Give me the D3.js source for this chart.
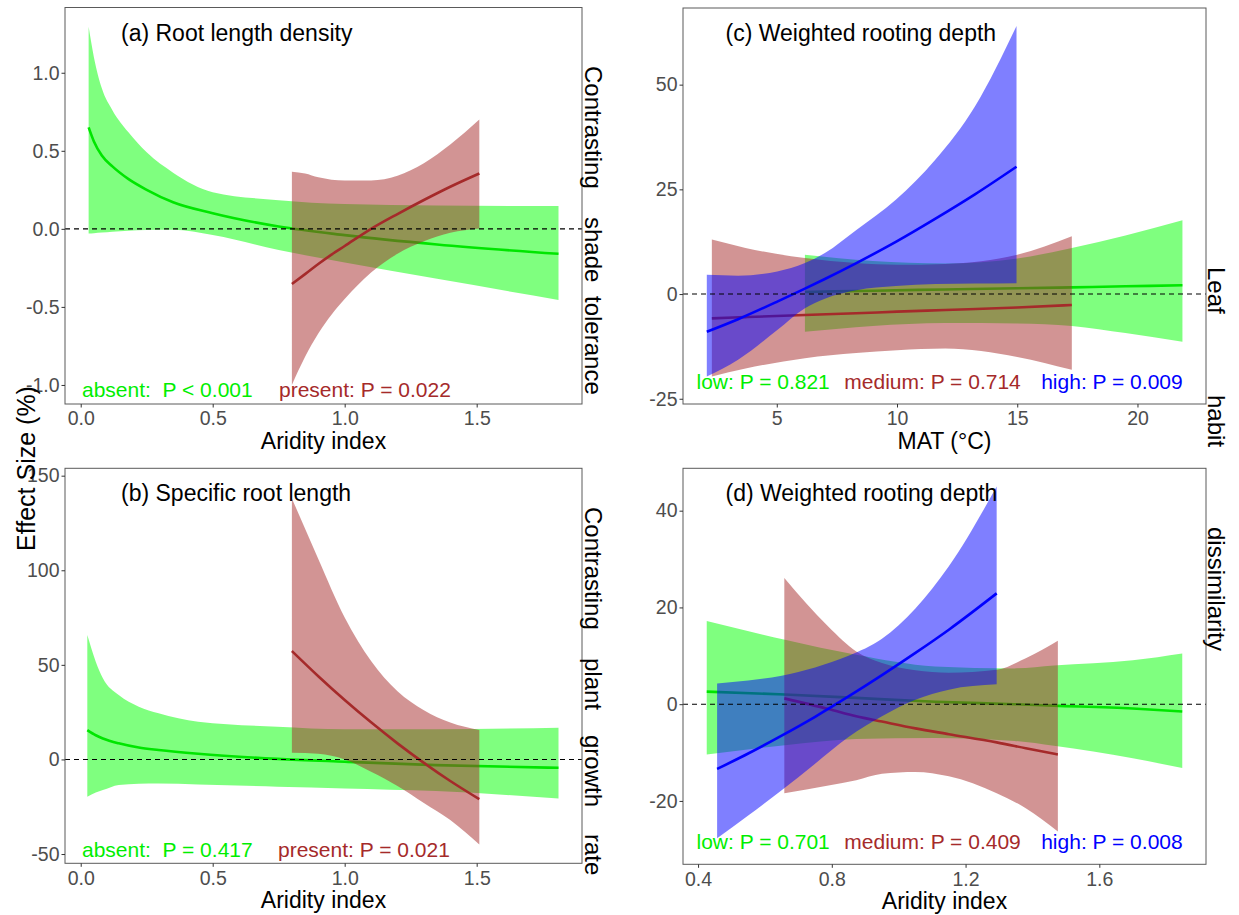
<!DOCTYPE html>
<html><head><meta charset="utf-8">
<script src="https://cdn.jsdelivr.net/npm/d3@7"></script>
<style>
body{margin:0;background:#fff}
text{font-family:"Liberation Sans",Arial,Helvetica,sans-serif}
</style>
</head><body>
<svg id="chart" width="1239" height="915" xmlns="http://www.w3.org/2000/svg"></svg>
<script>
// ---------------- DATA ----------------
// Panel (a) Root length density vs Aridity index
const aAbsentX   = [0.03, 0.05, 0.08, 0.12, 0.18, 0.25, 0.35, 0.50, 0.75, 1.00, 1.35, 1.81];
const aAbsentFit = [0.65, 0.56, 0.47, 0.40, 0.32, 0.25, 0.17, 0.10, 0.015, -0.04, -0.10, -0.16];
const aAbsentLo  = [-0.03, -0.028, -0.024, -0.018, -0.012, -0.007, -0.006, -0.04, -0.136, -0.215, -0.32, -0.455];
const aAbsentHi  = [1.294, 1.10, 0.90, 0.76, 0.62, 0.49, 0.36, 0.235, 0.184, 0.159, 0.15, 0.146];
const aPresentX   = [0.80, 0.85, 0.90, 0.95, 1.00, 1.10, 1.20, 1.30, 1.40, 1.51];
const aPresentFit = [-0.353, -0.29, -0.225, -0.165, -0.11, 0.0, 0.095, 0.185, 0.27, 0.355];
const aPresentLo  = [-1.0, -0.82, -0.67, -0.55, -0.45, -0.28, -0.16, -0.08, -0.025, 0.003];
const aPresentHi  = [0.366, 0.355, 0.33, 0.315, 0.31, 0.31, 0.34, 0.42, 0.54, 0.70];

// Panel (b) Specific root length vs Aridity index
const bAbsentX   = [0.025, 0.057, 0.084, 0.144, 0.22, 0.295, 0.445, 0.745, 1.00, 1.345, 1.81];
const bAbsentFit = [15.5, 12.8, 11.1, 8.5, 6.3, 5.0, 3.0, 0.3, -1.2, -3.0, -4.4];
const bAbsentLo  = [-19.7, -17.5, -16.2, -13.5, -12.8, -12.7, -13.2, -14.4, -15.3, -16.7, -20.6];
const bAbsentHi  = [65.8, 51.7, 42.9, 34.0, 27.9, 24.4, 19.9, 17.3, 16.0, 16.0, 16.8];
const bPresentX   = [0.80, 0.90, 1.00, 1.10, 1.20, 1.30, 1.40, 1.51];
const bPresentFit = [57.3, 44.0, 31.4, 19.6, 8.5, -1.8, -11.4, -21.0];
const bPresentLo  = [3.5, 3.0, 0.0, -6.5, -14.0, -23.0, -32.0, -45.0];
const bPresentHi  = [138, 106, 75, 52, 36, 26, 19.5, 15.5];

// Panel (c) Weighted rooting depth vs MAT
const cLowX   = [6.17, 9, 12, 15, 17.27, 19.5, 21.87];
const cLowFit = [0.5, 0.8, 1.1, 1.4, 1.6, 1.85, 2.1];
const cLowLo  = [-9.0, -7.6, -6.9, -7.0, -7.6, -9.3, -11.4];
const cLowHi  = [9.4, 7.9, 7.3, 8.5, 11.0, 14.0, 17.6];
const cMedX   = [2.3, 3.7, 6.17, 8.3, 10, 12, 15, 17.27];
const cMedFit = [-5.8, -5.5, -5.0, -4.6, -4.2, -3.8, -3.2, -2.6];
const cMedLo  = [-19.7, -17.8, -15.3, -14.1, -13.4, -13.0, -15.0, -18.1];
const cMedHi  = [13.0, 11.0, 8.6, 7.4, 7.0, 7.2, 9.4, 13.8];
const cHighX   = [2.09, 3.39, 5.02, 6.17, 7.0, 8.31, 9.95, 11.6, 13.24, 14.97];
const cHighFit = [-9.0, -6.0, -1.8, 1.3, 3.6, 7.4, 12.45, 18.0, 23.8, 30.4];
const cHighLo  = [-19.7, -15.7, -8.6, -3.4, -1.1, 0.9, 1.9, 2.4, 2.5, 2.6];
const cHighHi  = [4.6, 4.4, 5.4, 7.4, 9.8, 15.3, 22.5, 32.1, 44.8, 64.0];

// Panel (d) Weighted rooting depth vs Aridity index
const dLowX   = [0.426, 0.66, 0.873, 1.109, 1.346, 1.464, 1.70, 1.848];
const dLowFit = [2.6, 2.0, 1.3, 0.5, 0.0, -0.3, -0.9, -1.5];
const dLowLo  = [-10.4, -8.5, -7.2, -7.0, -7.6, -8.6, -11.2, -13.2];
const dLowHi  = [17.2, 13.3, 10.2, 7.8, 7.4, 8.0, 9.1, 10.5];
const dMedX   = [0.658, 0.79, 0.873, 0.95, 1.05, 1.15, 1.293, 1.38, 1.476];
const dMedFit = [1.2, -1.0, -2.5, -3.6, -5.0, -6.2, -7.9, -9.1, -10.4];
const dMedLo  = [-18.4, -16.8, -15.7, -14.4, -14.0, -14.9, -18.4, -21.5, -26.3];
const dMedHi  = [26.1, 16.0, 10.9, 8.5, 7.0, 6.5, 7.1, 9.5, 13.1];
const dHighX   = [0.457, 0.55, 0.65, 0.75, 0.85, 0.95, 1.05, 1.15, 1.293];
const dHighFit = [-13.4, -10.2, -6.5, -2.6, 1.6, 6.0, 10.6, 15.4, 22.9];
const dHighLo  = [-27.7, -23.0, -17.8, -12.3, -6.8, -2.5, 0.9, 3.0, 4.1];
const dHighHi  = [4.3, 4.9, 5.9, 7.6, 10.0, 13.5, 19.8, 28.5, 45.0];

// Tick values
const aXTicks = [0, 0.5, 1.0, 1.5];
const aYTicks = [-1.0, -0.5, 0.0, 0.5, 1.0];
const bXTicks = [0, 0.5, 1.0, 1.5];
const bYTicks = [-50, 0, 50, 100, 150];
const cXTicks = [5, 10, 15, 20];
const cYTicks = [-25, 0, 25, 50];
const dXTicks = [0.4, 0.8, 1.2, 1.6];
const dYTicks = [-20, 0, 20, 40];

// Text
const panelTitles = ["(a) Root length density", "(b) Specific root length", "(c) Weighted rooting depth", "(d) Weighted rooting depth"];
const xTitles = ["Aridity index", "Aridity index", "MAT (°C)", "Aridity index"];
const aLabels = ["absent:  P < 0.001", "present: P = 0.022"];
const bLabels = ["absent:  P = 0.417", "present: P = 0.021"];
const cLabels = ["low: P = 0.821", "medium: P = 0.714", "high: P = 0.009"];
const dLabels = ["low: P = 0.701", "medium: P = 0.409", "high: P = 0.008"];
const yTitle = "Effect Size (%)";
const stripLeftTop = ["Contrasting", "shade", "tolerance"];
const stripLeftBottom = ["Contrasting", "plant", "growth", "rate"];
const stripRight = ["Leaf", "habit", "dissimilarity"];

// ---------------- STYLE / LAYOUT ----------------
const GREEN = "#00ff00", GREEN_LINE = "#00e600", GREEN_TEXT = "#00ee00";
const BROWN = "#a52a2a", BLUE = "#0000ff";
const svg = d3.select("#chart");
const fmt1 = v => d3.format(".1f")(v).replace("\u2212", "-");
const fmt0 = v => d3.format("d")(v).replace("\u2212", "-");

const panels = [
  { id: "a", left: 65, right: 582, top: 7.5, bottom: 404, xDomain: [-0.0595, 1.899], yDomain: [-1.122, 1.418],
    xTicks: aXTicks, yTicks: aYTicks, xf: fmt1, yf: fmt1, title: panelTitles[0], xTitle: xTitles[0],
    series: [
      { x: aAbsentX, fit: aAbsentFit, lo: aAbsentLo, hi: aAbsentHi, fill: GREEN, line: GREEN_LINE },
      { x: aPresentX, fit: aPresentFit, lo: aPresentLo, hi: aPresentHi, fill: BROWN, line: BROWN }],
    labels: aLabels, labelX: [82, 279], labelColors: [GREEN_TEXT, BROWN], labelY: 397 },
  { id: "b", left: 65, right: 582, top: 468.3, bottom: 863.3, xDomain: [-0.0595, 1.899], yDomain: [-54.9, 153.9],
    xTicks: bXTicks, yTicks: bYTicks, xf: fmt1, yf: fmt0, title: panelTitles[1], xTitle: xTitles[1],
    series: [
      { x: bAbsentX, fit: bAbsentFit, lo: bAbsentLo, hi: bAbsentHi, fill: GREEN, line: GREEN_LINE },
      { x: bPresentX, fit: bPresentFit, lo: bPresentLo, hi: bPresentHi, fill: BROWN, line: BROWN }],
    labels: bLabels, labelX: [82, 278], labelColors: [GREEN_TEXT, BROWN], labelY: 857 },
  { id: "c", left: 683, right: 1206, top: 8, bottom: 404, xDomain: [1.10, 22.85], yDomain: [-26.25, 68.3],
    xTicks: cXTicks, yTicks: cYTicks, xf: fmt0, yf: fmt0, title: panelTitles[2], xTitle: xTitles[2],
    series: [
      { x: cLowX, fit: cLowFit, lo: cLowLo, hi: cLowHi, fill: GREEN, line: GREEN_LINE },
      { x: cMedX, fit: cMedFit, lo: cMedLo, hi: cMedHi, fill: BROWN, line: BROWN },
      { x: cHighX, fit: cHighFit, lo: cHighLo, hi: cHighHi, fill: BLUE, line: BLUE }],
    labels: cLabels, labelX: [696.5, 844.3, 1041.2], labelColors: [GREEN_TEXT, BROWN, BLUE], labelY: 388.5 },
  { id: "d", left: 683, right: 1206, top: 468.3, bottom: 864.3, xDomain: [0.355, 1.919], yDomain: [-33.1, 48.76],
    xTicks: dXTicks, yTicks: dYTicks, xf: fmt1, yf: fmt0, title: panelTitles[3], xTitle: xTitles[3],
    series: [
      { x: dLowX, fit: dLowFit, lo: dLowLo, hi: dLowHi, fill: GREEN, line: GREEN_LINE },
      { x: dMedX, fit: dMedFit, lo: dMedLo, hi: dMedHi, fill: BROWN, line: BROWN },
      { x: dHighX, fit: dHighFit, lo: dHighLo, hi: dHighHi, fill: BLUE, line: BLUE }],
    labels: dLabels, labelX: [696.5, 844.3, 1041.2], labelColors: [GREEN_TEXT, BROWN, BLUE], labelY: 849 }
];

panels.forEach(p => {
  const x = d3.scaleLinear().domain(p.xDomain).range([p.left, p.right]);
  const y = d3.scaleLinear().domain(p.yDomain).range([p.bottom, p.top]);
  const g = svg.append("g");
  const clipId = "clip-" + p.id;
  g.append("clipPath").attr("id", clipId).append("rect")
    .attr("x", p.left).attr("y", p.top).attr("width", p.right - p.left).attr("height", p.bottom - p.top);
  const plot = g.append("g").attr("clip-path", `url(#${clipId})`);

  p.series.forEach(s => {
    const idx = d3.range(s.x.length);
    const area = d3.area().x(i => x(s.x[i])).y0(i => y(s.lo[i])).y1(i => y(s.hi[i])).curve(d3.curveMonotoneX);
    plot.append("path").attr("d", area(idx)).attr("fill", s.fill).attr("fill-opacity", 0.5);
    const line = d3.line().x(i => x(s.x[i])).y(i => y(s.fit[i])).curve(d3.curveMonotoneX);
    plot.append("path").attr("d", line(idx)).attr("fill", "none").attr("stroke", s.line).attr("stroke-width", 2.6);
  });

  // zero reference line
  plot.append("line").attr("x1", p.left).attr("x2", p.right).attr("y1", y(0)).attr("y2", y(0))
    .attr("stroke", "#000").attr("stroke-width", 1.1).attr("stroke-dasharray", "5,4");

  // panel border
  g.append("rect").attr("x", p.left).attr("y", p.top).attr("width", p.right - p.left).attr("height", p.bottom - p.top)
    .attr("fill", "none").attr("stroke", "#5a5a5a").attr("stroke-width", 1);

  // axes
  const xa = g.append("g").attr("transform", `translate(0,${p.bottom})`)
    .call(d3.axisBottom(x).tickValues(p.xTicks).tickFormat(p.xf).tickSize(3.5).tickPadding(4));
  const ya = g.append("g").attr("transform", `translate(${p.left},0)`)
    .call(d3.axisLeft(y).tickValues(p.yTicks).tickFormat(p.yf).tickSize(3.5).tickPadding(2));
  [xa, ya].forEach(a => {
    a.select(".domain").remove();
    a.selectAll(".tick line").attr("stroke", "#333");
    a.selectAll(".tick text").attr("fill", "#4d4d4d").style("font-size", "19.5px")
      .style("font-family", '"Liberation Sans",Arial,sans-serif');
  });

  // x axis title
  g.append("text").attr("x", (p.left + p.right) / 2).attr("y", p.bottom + 45).attr("text-anchor", "middle")
    .style("font-size", "23px").attr("fill", "#000").text(p.xTitle);

  // panel title
  g.append("text").attr("x", p.id === "a" || p.id === "b" ? 121 : 725.5).attr("y", p.top + 33)
    .style("font-size", "23px").attr("fill", "#000").text(p.title);

  // p-value labels
  p.labels.forEach((t, i) => {
    g.append("text").attr("x", p.labelX[i]).attr("y", p.labelY).attr("fill", p.labelColors[i])
      .style("font-size", "21px").style("white-space", "pre").attr("xml:space", "preserve").text(t);
  });
});

// y axis title
svg.append("text").attr("transform", "translate(35,468.5) rotate(-90)").attr("text-anchor", "middle")
  .style("font-size", "25px").attr("fill", "#000").text(yTitle);

// right-side strip texts (rotated, read top to bottom)
function stripWords(words, starts, bx) {
  words.forEach((w, i) => {
    svg.append("text").attr("transform", `translate(${bx},${starts[i]}) rotate(90)`)
      .style("font-size", "24px").attr("fill", "#000").text(w);
  });
}
stripWords(stripLeftTop, [66, 217, 296], 585);
stripWords(stripLeftBottom, [507, 658, 735, 834], 585);
stripWords(stripRight, [267, 395, 527], 1208);
</script>
</body></html>
